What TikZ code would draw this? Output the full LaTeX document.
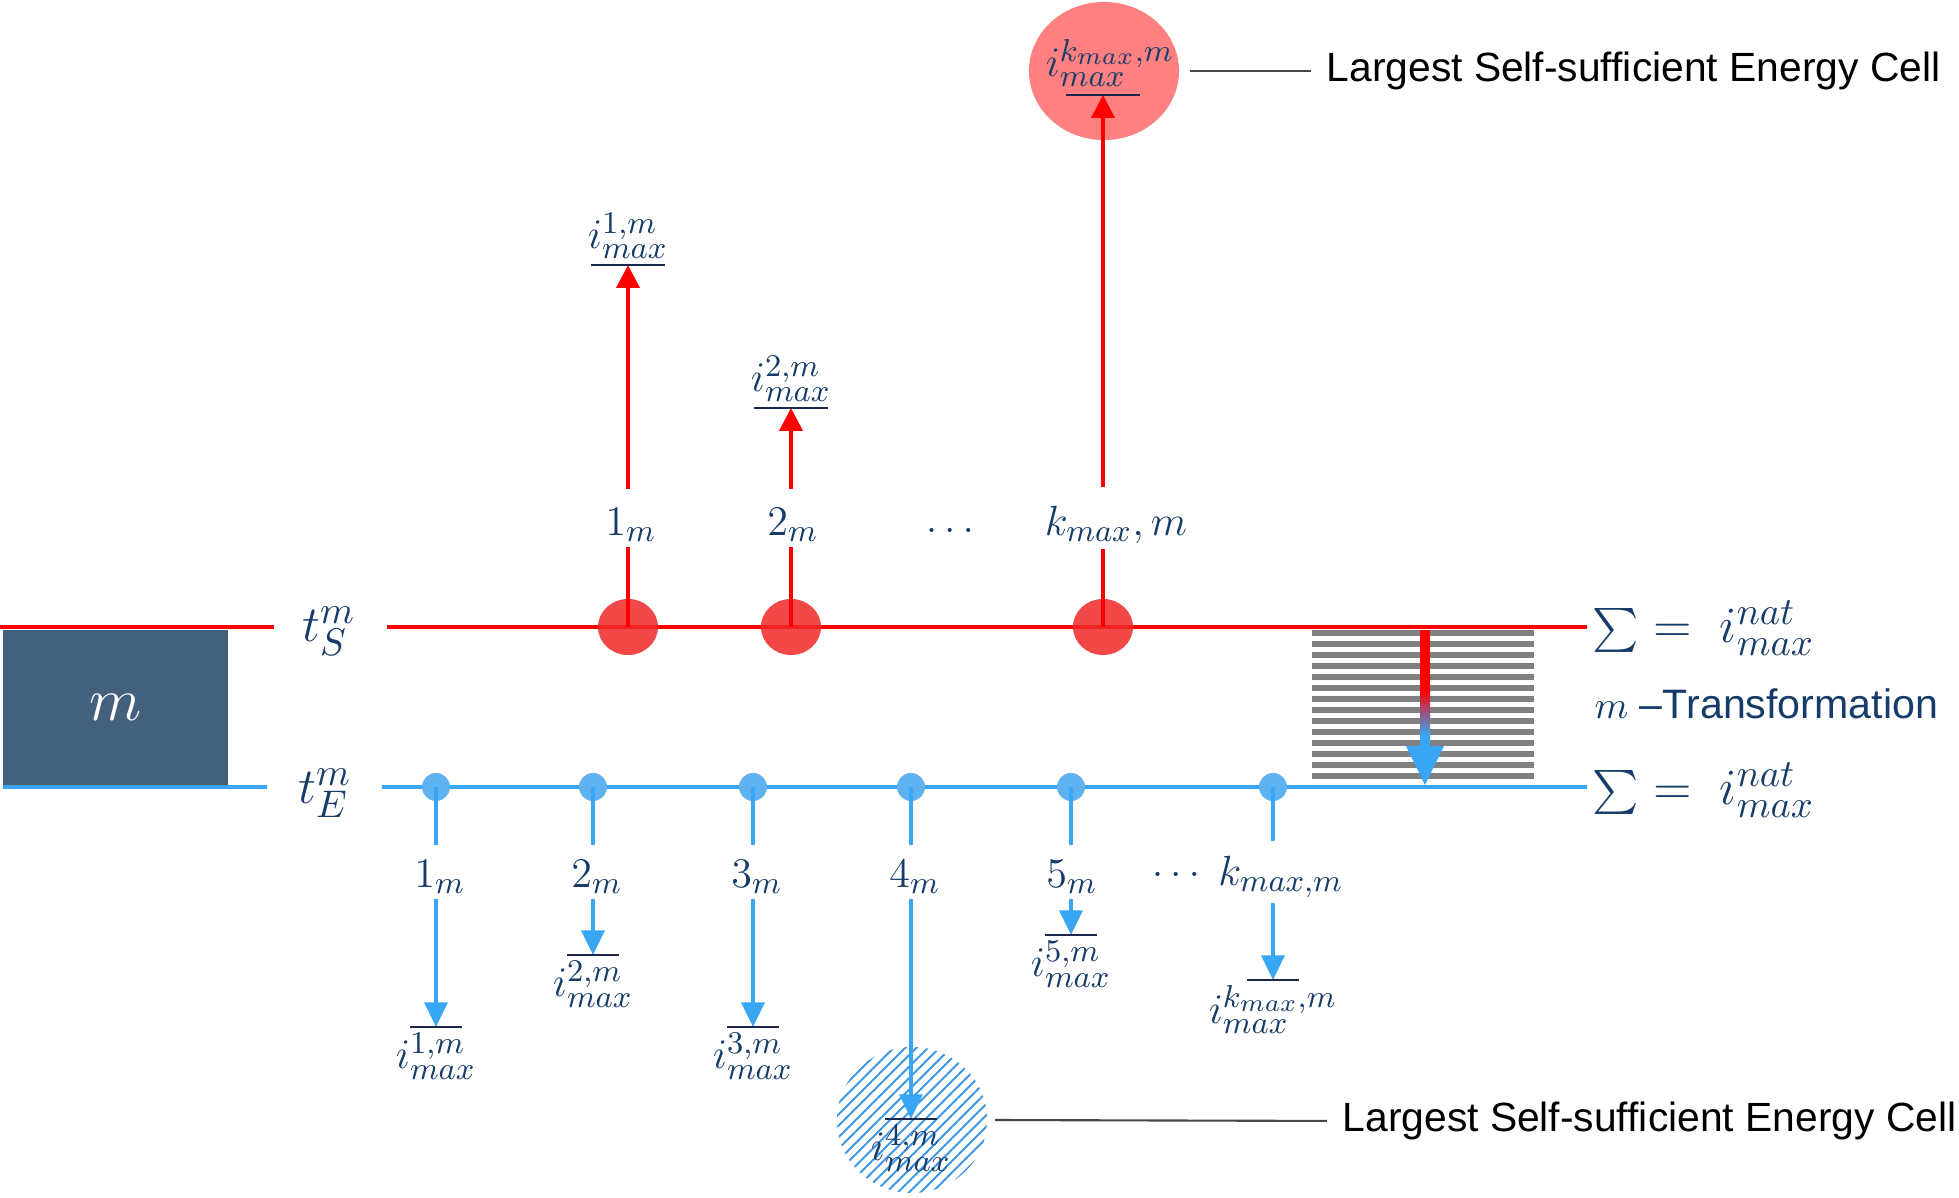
\documentclass[tikz,border=0pt]{standalone}
\usepackage{fontspec}
\setsansfont{Liberation Sans}
\DeclareMathSizes{12}{12}{9.2}{7.2}
\DeclareMathSizes{13.5}{13.5}{10.5}{8}
\DeclareMathSizes{14}{14}{10.8}{8.4}
\usetikzlibrary{arrows.meta,patterns.meta,calc,shapes.geometric}
\definecolor{navy}{RGB}{22,60,105}
\definecolor{barc}{RGB}{25,40,75}
\definecolor{rline}{RGB}{255,0,0}
\definecolor{rdot}{RGB}{240,40,40}
\definecolor{rcirc}{RGB}{255,128,128}
\definecolor{bline}{RGB}{56,165,245}
\definecolor{bdot}{RGB}{95,178,242}
\definecolor{hatch}{RGB}{60,150,230}
\definecolor{boxc}{RGB}{67,97,125}
\definecolor{stripe}{RGB}{128,128,128}
\definecolor{conn}{RGB}{70,70,70}
\begin{document}
\begin{tikzpicture}[x=0.01cm,y=-0.01cm,
  lbl/.style={text=navy, font=\fontsize{12}{14}\selectfont, inner sep=0pt, outer sep=0pt},
  tlbl/.style={text=navy, font=\fontsize{13.5}{15}\selectfont, inner sep=0pt},
  sumlbl/.style={text=navy, font=\fontsize{14}{16}\selectfont, inner sep=0pt, anchor=west},
  bigtxt/.style={text=black, font=\fontsize{11.6}{14}\sffamily, inner sep=0pt, anchor=west},
  redbase/.style={draw=rline, line width=1.4pt},
  bluebase/.style={draw=bline, line width=1.3pt},
  redl/.style={draw=rline, line width=1.1pt},
  bluel/.style={draw=bline, line width=1.1pt},
  redarr/.style={redl, -{Triangle[length=6.5pt,width=6.5pt]}},
  bluearr/.style={bluel, -{Triangle[length=7pt,width=6.5pt]}},
  bar/.style={draw=barc, line width=0.8pt},
  rnode/.style={ellipse, fill=rdot, fill opacity=0.85, minimum width=0.6cm, minimum height=0.56cm, inner sep=0pt},
  bnode/.style={circle, fill=bdot, minimum size=0.28cm, inner sep=0pt},
  conn/.style={draw=conn, line width=0.6pt}
]
\useasboundingbox (0,0) rectangle (1959,1198);

% box m
\node[fill=boxc, minimum width=2.25cm, minimum height=1.55cm, inner sep=0pt, text=white,
      font=\fontsize{17}{20}\selectfont] (M) at (115.5,707.5) {$m$};

% stripes
\foreach \k in {0,...,13}
  \fill[stripe] (1312,{630+\k*11}) rectangle (1534,{636+\k*11});

% timelines
\draw[redbase] (0,627) -- (274,627);
\draw[redbase] (387,627) -- (1587,627);
\draw[bluebase] (3,787) -- (267,787);
\draw[bluebase] (382,787) -- (1587,787);
\node[tlbl] (TS) at (329,631) {$t_S^m$};
\node[tlbl] (TE) at (325,793) {$t_E^m$};
\node[sumlbl] (SS) at (1592,628) {$\vcenter{\hbox{\scalebox{1.25}{$\sum$}}} =\; i^{nat}_{max}$};
\node[sumlbl] (SE) at (1592,790) {$\vcenter{\hbox{\scalebox{1.25}{$\sum$}}} =\; i^{nat}_{max}$};
\node[anchor=west, inner sep=0pt, text=navy, font=\fontsize{11.7}{14}\sffamily] (TR) at (1594,704) {{\fontsize{11}{13}\selectfont$m$} –Transformation};

% gradient arrow
\fill[rline] (1420,630) rectangle (1430,690);
\shade[top color=rline, bottom color=bline] (1420,690) rectangle (1430,735);
\fill[bline] (1420,735) rectangle (1430,748);
\fill[bline] (1406,746) -- (1444,746) -- (1425,785) -- cycle;

% ---- red (start) side ----
\node[ellipse, fill=rcirc, minimum width=1.5cm, minimum height=1.38cm, inner sep=0pt] (C1) at (1104,71) {};
\node[rnode] (e1) at (628,627) {};
\node[rnode] (e2) at (791,627) {};
\node[rnode] (ek) at (1103,627) {};

\node[lbl] (r1) at (631,525) {$1_m$};
\node[lbl] (r2) at (793,525) {$2_m$};
\node[lbl] (rd) at (950,530) {$\ldots$};
\node[lbl] (rk) at (1116,525) {$k_{max},m$};

\draw[redl, shorten >=1.4pt] (e1.center) -- (e1 |- r1.south);
\draw[redl, shorten >=1.4pt] (e2.center) -- (e2 |- r2.south);
\draw[redl, shorten >=1.4pt] (ek.center) -- (ek |- rk.south);

\coordinate (b1) at (628,265);
\coordinate (b2) at (791,408);
\coordinate (bk) at (1103,95);
\draw[redarr, shorten <=5.5pt] (e1 |- r1.north) -- (b1);
\draw[redarr, shorten <=5.5pt] (e2 |- r2.north) -- (b2);
\draw[redarr, shorten <=5.5pt] (ek |- rk.north) -- (bk);

\draw[bar] ($(b1)+(-37,0)$) -- ($(b1)+(37,0)$);
\draw[bar] ($(b2)+(-37,0)$) -- ($(b2)+(37,0)$);
\draw[bar] ($(bk)+(-37,0)$) -- ($(bk)+(37,0)$);
\node[lbl, anchor=south] (R1) at ($(b1)+(0,-6)$) {$i^{1,m}_{max}$};
\node[lbl, anchor=south] (R2) at ($(b2)+(0,-6)$) {$i^{2,m}_{max}$};
\node[lbl, anchor=south] (Rk) at ($(bk)+(7,-8)$) {$i^{k_{max},m}_{max}$};

\node[bigtxt] (T1) at (1326,71) {Largest Self-sufficient Energy Cell};
\draw[conn, shorten <=3pt, shorten >=4.3pt] (C1.east) -- (T1.west);

% ---- blue (end) side ----
\node[ellipse, pattern={Lines[angle=45,distance=2.3pt,line width=0.55pt]}, pattern color=hatch,
      minimum width=1.5cm, minimum height=1.46cm, inner sep=0pt] (C2) at (912,1120) {};

\node[bnode] (d1) at (436,787) {};
\node[bnode] (d2) at (593,787) {};
\node[bnode] (d3) at (753,787) {};
\node[bnode] (d4) at (911,787) {};
\node[bnode] (d5) at (1071,787) {};
\node[bnode] (dk) at (1273,787) {};

\node[lbl] (l1) at (440,877) {$1_m$};
\node[lbl] (l2) at (597,877) {$2_m$};
\node[lbl] (l3) at (757,877) {$3_m$};
\node[lbl] (l4) at (915,877) {$4_m$};
\node[lbl] (l5) at (1072,877) {$5_m$};
\node[lbl] (ld) at (1176,874) {$\ldots$};
\node[lbl] (lk) at (1281,877) {$k_{max,m}$};

\foreach \d/\l in {d1/l1,d2/l2,d3/l3,d4/l4,d5/l5,dk/lk}
  \draw[bluel, shorten >=4.3pt] (\d.center) -- (\d |- \l.north);

\coordinate (q1) at (436,1027);
\coordinate (q2) at (593,955);
\coordinate (q3) at (753,1027);
\coordinate (q4) at (911,1119);
\coordinate (q5) at (1071,935);
\coordinate (qk) at (1273,980);

\foreach \d/\l/\q in {d1/l1/q1,d2/l2/q2,d3/l3/q3,d4/l4/q4,d5/l5/q5,dk/lk/qk}{
  \draw[bluearr, shorten <=1.5pt] (\d |- \l.south) -- (\q);
  \draw[bar] ($(\q)+(-26,0)$) -- ($(\q)+(26,0)$);
}
\node[lbl, anchor=north] (L1) at ($(q1)+(0,6)$) {$i^{1,m}_{max}$};
\node[lbl, anchor=north] (L2) at ($(q2)+(0,6)$) {$i^{2,m}_{max}$};
\node[lbl, anchor=north] (L3) at ($(q3)+(0,6)$) {$i^{3,m}_{max}$};
\node[lbl, anchor=north] (L4) at ($(q4)+(0,6)$) {$i^{4,m}_{max}$};
\node[lbl, anchor=north] (L5) at ($(q5)+(0,6)$) {$i^{5,m}_{max}$};
\node[lbl, anchor=north] (Lk) at ($(qk)+(0,6)$) {$i^{k_{max},m}_{max}$};

\node[bigtxt] (T2) at (1342,1121) {Largest Self-sufficient Energy Cell};
\draw[conn, shorten <=2pt, shorten >=4.3pt] (C2.east) -- (T2.west);
\end{tikzpicture}
\end{document}
